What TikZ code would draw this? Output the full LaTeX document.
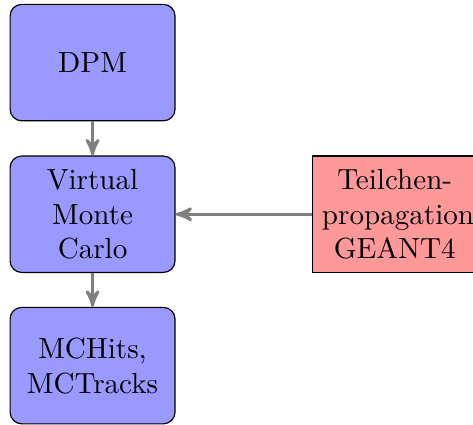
\documentclass[tikz,border=0pt]{standalone}
\usetikzlibrary{arrows}
\begin{document}
\begin{tikzpicture}[x=1pt,y=1pt,
  block/.style={rectangle, draw, fill=blue!40, text width=5em, align=center, rounded corners, minimum height=4em},
  redblock/.style={rectangle, draw, fill=red!40, text width=5em, align=center, minimum height=4em},
  conn/.style={draw, line width=1pt, gray, -stealth'}]
\useasboundingbox (0,0) rectangle (162.5,-145.7);
\node[block] (dpm) at (31.8,-21.5) {DPM};
\node[block] (vmc) at (31.8,-73.6) {Virtual Monte Carlo};
\node[block] (mch) at (31.8,-125.6) {MCHits, MCTracks};
\node[redblock] (geant) at (135.6,-73.6) {Teilchen-\\propagation\\GEANT4};
\path[conn] (dpm) -- (vmc);
\path[conn] (vmc) -- (mch);
\path[conn] (geant) -- (vmc);
\end{tikzpicture}
\end{document}
